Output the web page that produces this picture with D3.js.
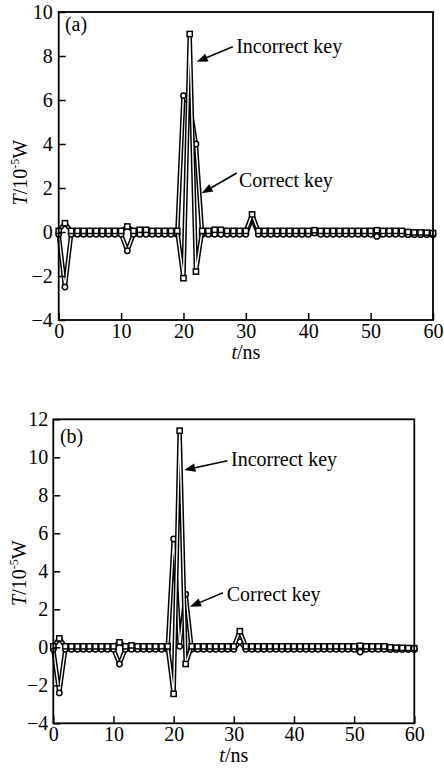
<!DOCTYPE html>
<html><head><meta charset="utf-8">
<script src="https://cdn.jsdelivr.net/npm/d3@7"></script>
<style>
html,body{margin:0;padding:0;background:#fff;}
text{font-family:"Liberation Serif","Times New Roman",serif;fill:#000;}
</style></head>
<body>
<svg id="chart" width="444" height="769"></svg>
<script>
// ---------- data ----------
const timeNs = [0,1,2,3,4,5,6,7,8,9,10,11,12,13,14,15,16,17,18,19,20,21,22,23,24,25,26,27,28,29,30,
  31,32,33,34,35,36,37,38,39,40,41,42,43,44,45,46,47,48,49,50,51,52,53,54,55,56,57,58,59,60];

// Panel (a)
const incorrectA = [0.05,0.4,0.05,0.05,0.05,0.05,0.05,0.05,0.05,0.05,0.05,0.25,0.05,0.1,0.1,0.05,0.05,0.05,0.05,0.05,
  -2.1,9.0,-1.8,0.05,0.05,0.1,0.1,0.05,0.05,0.05,0.05,0.8,0.05,0.05,0.05,0.05,0.05,0.05,0.05,0.05,
  0.05,0.08,0.05,0.05,0.05,0.05,0.05,0.05,0.05,0.05,0.05,0.08,0.05,0.05,0.05,0.05,0.0,-0.02,-0.02,-0.03,-0.05];
const correctA = [-0.1,-2.5,-0.1,-0.1,-0.1,-0.1,-0.1,-0.1,-0.1,-0.1,-0.1,-0.85,-0.1,-0.1,-0.1,-0.1,-0.1,-0.1,-0.1,-0.1,
  6.2,5.8,4.0,-0.1,-0.1,-0.1,-0.1,-0.1,-0.1,-0.1,-0.1,0.6,-0.1,-0.1,-0.1,-0.1,-0.1,-0.1,-0.1,-0.1,
  -0.1,-0.05,-0.1,-0.1,-0.1,-0.1,-0.1,-0.1,-0.1,-0.1,-0.1,-0.2,-0.1,-0.1,-0.1,-0.1,-0.12,-0.12,-0.12,-0.12,-0.12];

// Panel (b)
const incorrectB = [0.05,0.47,0.05,0.05,0.05,0.05,0.05,0.05,0.05,0.05,0.05,0.26,0.05,0.1,0.05,0.05,0.05,0.05,0.05,0.05,
  -2.45,11.4,-0.88,0.05,0.05,0.05,0.05,0.05,0.05,0.05,0.05,0.85,0.05,0.05,0.05,0.05,0.05,0.05,0.05,0.05,
  0.05,0.05,0.05,0.05,0.05,0.05,0.05,0.05,0.05,0.05,0.05,0.08,0.05,0.05,0.05,0.05,0.0,-0.02,-0.03,-0.04,-0.05];
const correctB = [-0.1,-2.4,-0.1,-0.1,-0.1,-0.1,-0.1,-0.1,-0.1,-0.1,-0.1,-0.88,-0.1,-0.1,-0.1,-0.1,-0.1,-0.1,-0.1,-0.1,
  5.7,0.05,2.8,-0.1,-0.1,-0.1,-0.1,-0.1,-0.1,-0.1,-0.1,0.3,-0.1,-0.1,-0.1,-0.1,-0.1,-0.1,-0.1,-0.1,
  -0.1,-0.1,-0.1,-0.1,-0.1,-0.1,-0.1,-0.1,-0.1,-0.1,-0.1,-0.25,-0.1,-0.1,-0.1,-0.1,-0.12,-0.12,-0.12,-0.12,-0.12];

const xTicks = [0,10,20,30,40,50,60];
const yTicksA = [-4,-2,0,2,4,6,8,10];
const yTicksB = [-4,-2,0,2,4,6,8,10,12];
const seriesNames = ["Incorrect key","Correct key"];
const panelLabels = ["(a)","(b)"];

// ---------- drawing ----------
const svg = d3.select("#chart");

function drawPanel(cfg){
  const x = d3.scaleLinear().domain([0,60]).range([cfg.left, cfg.right]);
  const y = d3.scaleLinear().domain(cfg.yDomain).range([cfg.bottom, cfg.top]);
  const g = svg.append("g");

  const line = d3.line().x((d,i)=>x(timeNs[i])).y(d=>y(d));

  function series(vals, shape){
    // tube-like line: thick black with thin white core
    g.append("path").attr("d", line(vals)).attr("fill","none")
      .attr("stroke","#000").attr("stroke-width",4.4).attr("stroke-linejoin","round");
    g.append("path").attr("d", line(vals)).attr("fill","none")
      .attr("stroke","#fff").attr("stroke-width",1.4).attr("stroke-linejoin","round");
    if(shape==="square"){
      g.selectAll(null).data(vals).enter().append("rect")
        .attr("x",(d,i)=>x(timeNs[i])-2.6).attr("y",d=>y(d)-2.6)
        .attr("width",5.2).attr("height",5.2)
        .attr("fill","#fff").attr("stroke","#000").attr("stroke-width",1.5);
    } else {
      g.selectAll(null).data(vals).enter().append("circle")
        .attr("cx",(d,i)=>x(timeNs[i])).attr("cy",d=>y(d)).attr("r",2.7)
        .attr("fill","#fff").attr("stroke","#000").attr("stroke-width",1.5);
    }
  }
  series(cfg.correct, "circle");
  series(cfg.incorrect, "square");

  // axes (inward ticks)
  const ax = g.append("g").attr("transform",`translate(0,${cfg.bottom})`)
    .call(d3.axisBottom(x).tickValues(xTicks).tickSize(-7).tickPadding(4).tickFormat(d3.format("d")));
  const ay = g.append("g").attr("transform",`translate(${cfg.left},0)`)
    .call(d3.axisLeft(y).tickValues(cfg.yTicks).tickSize(-7).tickPadding(cfg.yPad).tickFormat(d3.format("d")));
  [ax,ay].forEach(a=>{
    a.select(".domain").remove();
    a.selectAll("line").attr("stroke","#000").attr("stroke-width",1.5);
    a.selectAll("text").attr("font-size",20).attr("font-family","Liberation Serif");
  });

  // frame
  g.append("rect").attr("x",cfg.left).attr("y",cfg.top)
    .attr("width",cfg.right-cfg.left).attr("height",cfg.bottom-cfg.top)
    .attr("fill","none").attr("stroke","#000").attr("stroke-width",1.8);

  // panel label
  g.append("text").attr("x",x(cfg.labelPos[0])).attr("y",y(cfg.labelPos[1]))
    .attr("font-size",20).text(cfg.label);

  // annotations
  cfg.notes.forEach(n=>{
    g.append("text").attr("x",x(n.text[0])).attr("y",y(n.text[1]))
      .attr("font-size",20).text(n.name);
    const x1=x(n.from[0]), y1=y(n.from[1]), x2=x(n.to[0]), y2=y(n.to[1]);
    const ang=Math.atan2(y2-y1,x2-x1), L=11, W=4.2;
    const bx=x2-L*Math.cos(ang), by=y2-L*Math.sin(ang);
    g.append("line").attr("x1",x1).attr("y1",y1).attr("x2",bx).attr("y2",by)
      .attr("stroke","#000").attr("stroke-width",1.6);
    g.append("path").attr("d",`M${x2},${y2}L${bx+W*Math.sin(ang)},${by-W*Math.cos(ang)}L${bx-W*Math.sin(ang)},${by+W*Math.cos(ang)}Z`)
      .attr("fill","#000");
  });

  // axis titles
  const yl = g.append("text").attr("transform",`translate(${cfg.yLabelX},${y(cfg.yLabelV)}) rotate(-90)`)
    .attr("text-anchor","middle").attr("font-size",20);
  yl.append("tspan").attr("font-style","italic").text("T");
  yl.append("tspan").text("/10");
  yl.append("tspan").attr("font-size",12).attr("dy",-8).text("-5");
  yl.append("tspan").attr("dy",8).text("W");

  const xl = g.append("text").attr("x",(cfg.left+cfg.right)/2).attr("y",cfg.xLabelY)
    .attr("text-anchor","middle").attr("font-size",20);
  xl.append("tspan").attr("font-style","italic").text("t");
  xl.append("tspan").text("/ns");
}

drawPanel({
  left:58.7, right:433, top:12, bottom:320, yDomain:[-4,10], yTicks:yTicksA, yPad:6,
  incorrect:incorrectA, correct:correctA,
  label:panelLabels[0], labelPos:[1.0,9.14],
  yLabelX:27, yLabelV:2.7, xLabelY:359,
  notes:[
    {name:seriesNames[0], text:[28.45,8.14], from:[27.9,8.42], to:[22.12,7.74]},
    {name:seriesNames[1], text:[28.9,2.06], from:[28.55,2.68], to:[22.92,1.76]}
  ]
});
drawPanel({
  left:53.3, right:414.3, top:419.3, bottom:723.3, yDomain:[-4,12], yTicks:yTicksB, yPad:5,
  incorrect:incorrectB, correct:correctB,
  label:panelLabels[1], labelPos:[1.1,10.75],
  yLabelX:26, yLabelV:3.9, xLabelY:762,
  notes:[
    {name:seriesNames[0], text:[29.53,9.54], from:[28.95,9.82], to:[21.77,9.33]},
    {name:seriesNames[1], text:[28.82,2.45], from:[28.2,2.87], to:[22.72,2.14]}
  ]
});
</script>
</body></html>
